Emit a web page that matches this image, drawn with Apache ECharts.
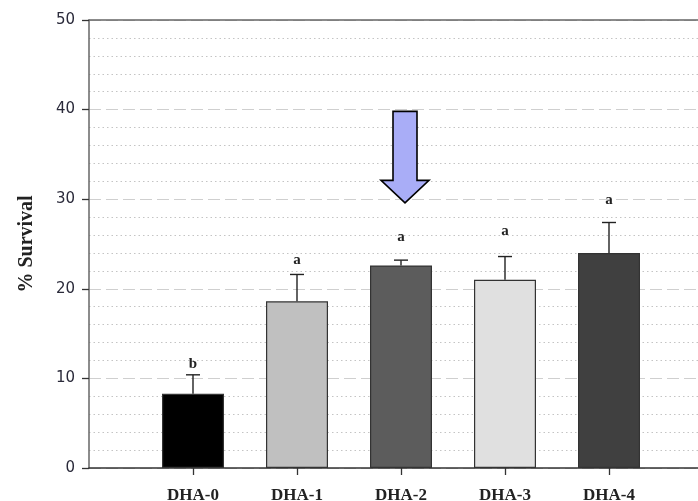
<!DOCTYPE html>
<html>
<head>
<meta charset="utf-8">
<script src="https://cdn.jsdelivr.net/npm/echarts@6/dist/echarts.min.js"></script>
<style>
  html, body { margin: 0; padding: 0; background: #fff; }
  #chart { width: 698px; height: 501px; }
</style>
</head>
<body>
<div id="chart"></div>
<script>
// Survival (%) per DHA group, mean with upper error bar and significance letter
const groups = ['DHA-0', 'DHA-1', 'DHA-2', 'DHA-3', 'DHA-4'];
const survival = [8.3, 18.6, 22.6, 21.0, 24.0];
const errors = [2.1, 3.0, 0.6, 2.6, 3.4];
const letters = ['b', 'a', 'a', 'a', 'a'];
const letterLevel = [11.6, 23.2, 25.8, 26.4, 29.9];
const barColors = ['#000000', '#c0c0c0', '#5c5c5c', '#e0e0e0', '#404040'];
const yTicks = [0, 10, 20, 30, 40, 50];

// highlighted group (arrow drawn above it): shaft top, head base, tip
const highlight = { group: 'DHA-2', top: 39.8, headBase: 32.1, tip: 29.6 };

// pad the category axis with an empty slot on each side
const axisCats = [''].concat(groups, ['']);
const idx = (i) => i + 1;

const chart = echarts.init(document.getElementById('chart'));

const serif = '"Liberation Serif", "Times New Roman", serif';

chart.setOption({
  animation: false,
  grid: { left: 89, top: 20, width: 624, height: 448, outerBoundsMode: 'none', containLabel: false },
  xAxis: [{
    type: 'category',
    data: axisCats,
    boundaryGap: false,
    axisLine: { lineStyle: { color: '#333', width: 1.5 } },
    axisTick: {
      show: true, length: 7, inside: false,
      interval: (i, v) => v !== '',
      lineStyle: { color: '#333', width: 1.3 }
    },
    axisLabel: {
      interval: 0, margin: 19,
      fontFamily: serif, fontWeight: 'bold', fontSize: 17, color: '#222'
    },
    splitLine: { show: false }
  }, {
    type: 'category',
    data: axisCats,
    boundaryGap: false,
    position: 'top',
    axisLine: { lineStyle: { color: '#666', width: 1.5 } },
    axisTick: { show: false },
    axisLabel: { show: false }
  }],
  yAxis: {
    type: 'value',
    min: yTicks[0],
    max: yTicks[yTicks.length - 1],
    interval: 10,
    name: '% Survival',
    nameLocation: 'middle',
    nameGap: 52,
    nameTextStyle: { fontFamily: serif, fontWeight: 'bold', fontSize: 20, color: '#222' },
    axisLine: { show: true, lineStyle: { color: '#666', width: 1.5 } },
    axisTick: { show: true, length: 7, inside: false, lineStyle: { color: '#333', width: 1.3 } },
    axisLabel: { margin: 14, fontFamily: '"DejaVu Sans", sans-serif', fontSize: 15, color: '#2a2a3a' },
    splitLine: { show: true, lineStyle: { color: '#cfcfcf', width: 1.2, type: [12, 5] } },
    minorTick: { show: false, splitNumber: 5 },
    minorSplitLine: { show: true, lineStyle: { color: '#c4c4c4', width: 1, type: [1.5, 3] } }
  },
  series: [{
    type: 'bar',
    barWidth: 62,
    data: axisCats.map((c, i) => {
      const g = groups.indexOf(c);
      if (g < 0) return null;
      return {
        value: survival[g],
        itemStyle: { color: barColors[g], borderColor: '#333', borderWidth: 1.2 }
      };
    }),
    z: 3
  }, {
    // error bars (upper whisker with cap)
    type: 'custom',
    z: 4,
    data: groups.map((g, i) => [idx(i), survival[i], errors[i]]),
    renderItem: (params, api) => {
      const x = api.value(0);
      const base = api.coord([x, api.value(1)]);
      const top = api.coord([x, api.value(1) + api.value(2)]);
      const half = 7;
      const style = { stroke: '#222', lineWidth: 1.4 };
      return {
        type: 'group',
        children: [
          { type: 'line', shape: { x1: base[0], y1: base[1], x2: top[0], y2: top[1] }, style },
          { type: 'line', shape: { x1: top[0] - half, y1: top[1], x2: top[0] + half, y2: top[1] }, style }
        ]
      };
    }
  }, {
    // significance letters
    type: 'custom',
    z: 5,
    data: groups.map((g, i) => [idx(i), letterLevel[i]]),
    renderItem: (params, api) => {
      const p = api.coord([api.value(0), api.value(1)]);
      return {
        type: 'text',
        style: {
          x: p[0], y: p[1], text: letters[params.dataIndex],
          align: 'center', verticalAlign: 'middle',
          font: 'bold 15px ' + serif, fill: '#222'
        }
      };
    }
  }, {
    // downward arrow marking the highlighted group
    type: 'custom',
    z: 6,
    data: [[idx(groups.indexOf(highlight.group)), highlight.top, highlight.headBase, highlight.tip]],
    renderItem: (params, api) => {
      const x = api.value(0);
      const t = api.coord([x, api.value(1)]);
      const h = api.coord([x, api.value(2)]);
      const p = api.coord([x, api.value(3)]);
      const cx = t[0] + 4, sw = 12, hw = 24;
      return {
        type: 'polygon',
        shape: {
          points: [
            [cx - sw, t[1]], [cx + sw, t[1]], [cx + sw, h[1]], [cx + hw, h[1]],
            [cx, p[1]], [cx - hw, h[1]], [cx - sw, h[1]]
          ]
        },
        style: { fill: '#a9adf7', stroke: '#000', lineWidth: 1.6, lineJoin: 'miter' }
      };
    }
  }]
});
</script>
</body>
</html>
